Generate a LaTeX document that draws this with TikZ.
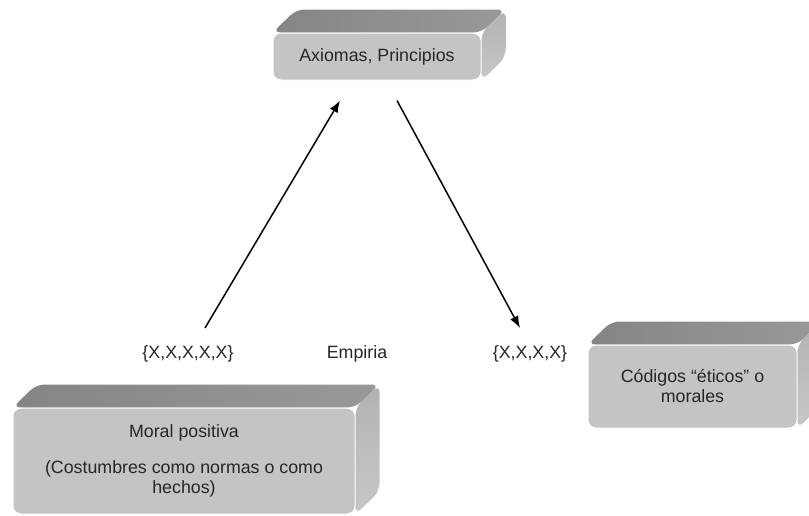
\documentclass[tikz,border=0pt]{standalone}
\usepackage{fontspec}
\setmainfont{Liberation Sans}
\usetikzlibrary{arrows.meta,positioning,calc,backgrounds}
\tikzset{>={Latex[length=12pt,width=9pt]}}
\tikzset{
  slab/.style={draw=white,line width=1pt,rounded corners=8pt,fill=black!23,
    align=center,inner sep=0pt,text=black!85},
  topface/.style={left color=black!48,right color=black!40,rounded corners=8pt},
  sideface/.style={top color=black!30,bottom color=black!22,rounded corners=8pt},
  lbl/.style={text=black!85}
}
% extrusion behind a front face
\newcommand{\bloque}[1]{%
  \shade[topface] (#1.north west) -- ++(24,-23) -- ($(#1.north east)+(24,-23)$) -- (#1.north east) -- cycle;
  \shade[sideface] (#1.north east) -- ++(24,-23) -- ($(#1.south east)+(24,-23)$) -- (#1.south east) -- cycle;
}

\begin{document}
\begin{tikzpicture}[x=1pt,y=-1pt,font=\fontsize{17.8}{20}\selectfont]
\useasboundingbox (0,0) rectangle (809,515);

\node [slab,minimum width=208pt,minimum height=47pt] (axiom) at (377,56.5) {Axiomas, Principios};
\node [slab,minimum width=342pt,minimum height=106pt] (moral) at (184,461)
  {Moral positiva\\[16pt](Costumbres como normas o como\\hechos)};
\node [slab,minimum width=209pt,minimum height=83pt] (codigo) at (692.5,386.5)
  {Códigos “éticos” o\\morales};

\begin{scope}[on background layer]
\bloque{axiom}
\bloque{moral}
\bloque{codigo}
\end{scope}

\node [lbl] (conj1) at (188,354) {\{X,X,X,X,X\}};
\node [lbl] (empiria) at (357,354) {Empiria};
\node [lbl] (conj2) at (530,354) {\{X,X,X,X\}};

\begin{scope}[line width=1.5pt]
\draw[->,color=black] ($(conj1)+(17,-26)$) to ($(axiom.south)+(-37,20)$);
\draw[->,color=black] ($(axiom.south)+(20,20)$) to ($(conj2)+(-10,-26)$);
\end{scope}

\end{tikzpicture}
\end{document}
